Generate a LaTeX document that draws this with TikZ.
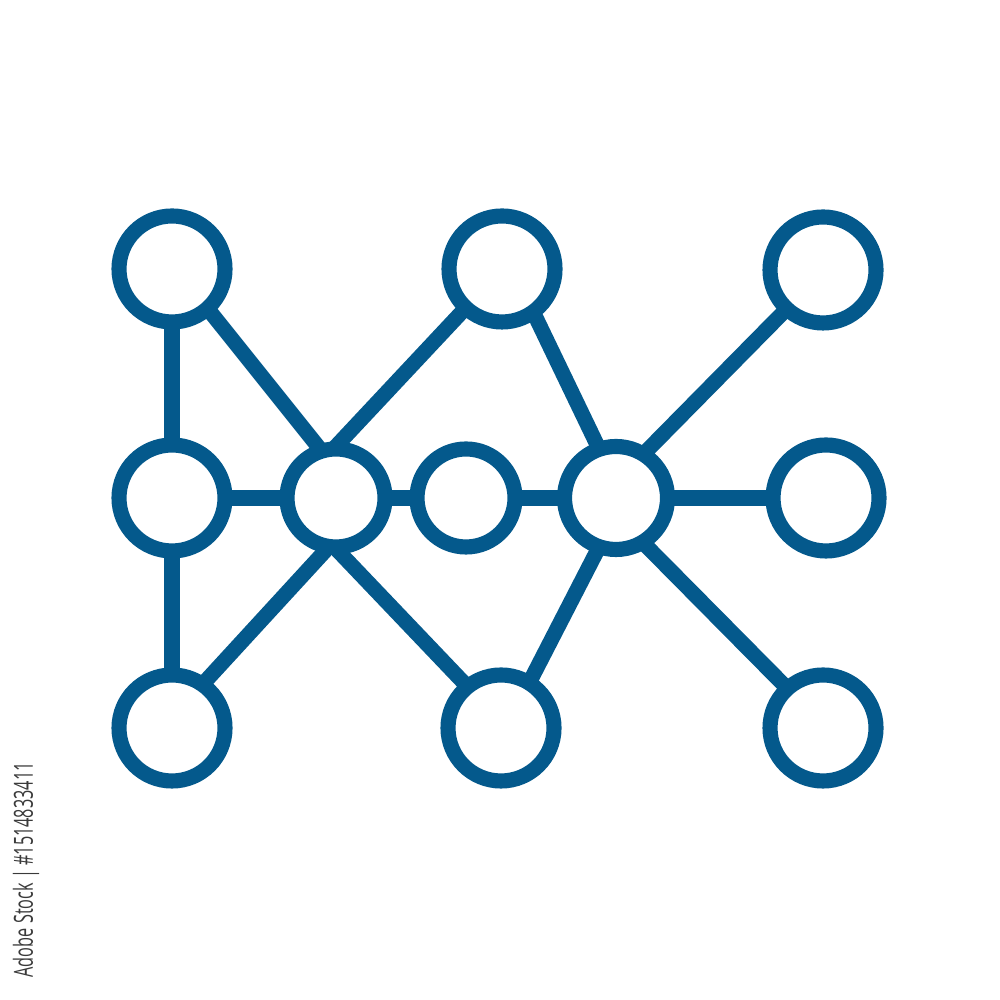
\documentclass[tikz,border=0pt]{standalone}
\usepackage{fontspec}
\setmainfont{Open Sans}
\usetikzlibrary{backgrounds}
\definecolor{netblue}{RGB}{4,89,140}
\definecolor{wmgray}{RGB}{58,58,58}
\tikzset{
  hub/.style={circle, draw=netblue, line width=4.3pt, fill=white, inner sep=0pt, outer sep=0pt, minimum size=#1},
  hub/.default=1.06cm,
  link/.style={draw=netblue, line width=4.3pt},
}
\begin{document}
\begin{tikzpicture}
\useasboundingbox (0,0) rectangle (10,10);
% top row
\node[hub] (tl) at (1.72,7.31) {};
\node[hub] (tm) at (5.02,7.31) {};
\node[hub] (tr) at (8.23,7.30) {};
% middle row
\node[hub] (ml) at (1.72,5.02) {};
\node[hub=0.98cm] (m2) at (3.36,5.02) {};
\node[hub=0.98cm] (m3) at (4.66,5.02) {};
\node[hub=1.03cm] (m4) at (6.16,5.02) {};
\node[hub] (mr) at (8.26,5.02) {};
% bottom row
\node[hub] (bl) at (1.72,2.72) {};
\node[hub] (bm) at (5.01,2.72) {};
\node[hub] (br) at (8.23,2.72) {};
\begin{scope}[on background layer]
\draw[link] (tl) -- (ml);
\draw[link] (ml) -- (bl);
\draw[link] (tl.312) -- (m2.107);
\draw[link] (bl.55) -- (m2.262);
\draw[link] (ml) -- (m2);
\draw[link] (m2) -- (m3);
\draw[link] (m3) -- (m4);
\draw[link] (m4) -- (mr);
\draw[link] (m2.93) -- (tm.227);
\draw[link] (m2.268) -- (bm.129);
\draw[link] (tm.306) -- (m4.109);
\draw[link] (m4.251) -- (bm.58);
\draw[link] (m4.58) -- (tr.227);
\draw[link] (m4.301) -- (br.132);
\end{scope}
\node[rotate=90, anchor=base west, inner sep=0pt, text=wmgray] (wm) at (0.33,0.22)
  {\resizebox{2.15cm}{0.2cm}{Adobe Stock | \#1514833411}};
\end{tikzpicture}
\end{document}
